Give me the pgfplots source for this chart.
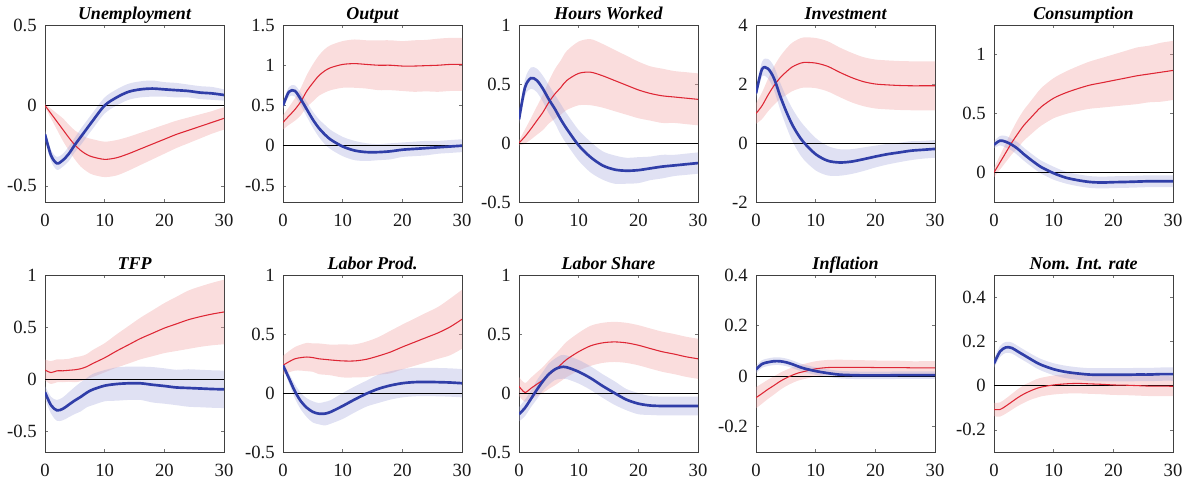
\documentclass[border=0pt]{standalone}
\usepackage{fontspec}
\setmainfont{Liberation Serif}
\usepackage{pgfplots}
\pgfplotsset{compat=1.18}
\usepackage{pgfplotstable}
\usepgfplotslibrary{fillbetween}

\definecolor{irfblue}{RGB}{48,62,168}
\definecolor{irfred}{RGB}{222,38,52}
\definecolor{bandblue}{RGB}{160,165,220}
\definecolor{bandred}{RGB}{240,160,160}

% columns: x, blue mean, blue half-width, red mean, red half-width
\pgfplotstableread{
x bm bw rm rw
0 -0.18 0.03 0.00 0.01
1 -0.31 0.035 -0.05 0.03
2 -0.36 0.04 -0.10 0.05
3 -0.34 0.04 -0.15 0.07
4 -0.30 0.045 -0.20 0.08
5 -0.245 0.045 -0.245 0.09
6 -0.195 0.05 -0.28 0.10
7 -0.145 0.05 -0.305 0.105
8 -0.095 0.05 -0.32 0.11
10 0.00 0.05 -0.335 0.11
12 0.05 0.05 -0.325 0.11
14 0.085 0.05 -0.30 0.105
16 0.10 0.05 -0.27 0.10
18 0.105 0.05 -0.24 0.095
20 0.10 0.045 -0.21 0.09
22 0.095 0.045 -0.18 0.085
24 0.09 0.04 -0.155 0.08
26 0.08 0.04 -0.13 0.075
28 0.075 0.04 -0.105 0.07
30 0.065 0.035 -0.08 0.07
}\tUnemp

\pgfplotstableread{
x bm bw rm rw
0 0.50 0.05 0.29 0.09
1 0.67 0.06 0.37 0.11
2 0.68 0.07 0.45 0.14
3 0.575 0.08 0.55 0.17
4 0.45 0.09 0.68 0.20
5 0.325 0.10 0.78 0.23
6 0.22 0.11 0.87 0.25
7 0.14 0.12 0.93 0.27
8 0.075 0.12 0.97 0.28
10 -0.01 0.12 1.01 0.29
12 -0.06 0.12 1.02 0.30
14 -0.08 0.11 1.01 0.30
16 -0.08 0.10 1.00 0.31
18 -0.07 0.10 1.00 0.31
20 -0.05 0.09 0.99 0.31
22 -0.04 0.09 0.99 0.32
24 -0.03 0.09 0.995 0.32
26 -0.02 0.08 1.00 0.33
28 -0.01 0.08 1.01 0.33
30 0.00 0.08 1.01 0.33
}\tOutput

\pgfplotstableread{
x bm bw rm rw
0 0.20 0.04 0.00 0.02
1 0.47 0.07 0.055 0.06
2 0.55 0.09 0.12 0.09
3 0.53 0.10 0.19 0.12
4 0.46 0.11 0.26 0.15
5 0.37 0.12 0.345 0.18
6 0.29 0.12 0.415 0.21
7 0.20 0.13 0.47 0.23
8 0.12 0.13 0.53 0.25
10 -0.02 0.13 0.59 0.27
12 -0.12 0.13 0.60 0.28
14 -0.19 0.12 0.57 0.27
16 -0.225 0.12 0.53 0.26
18 -0.235 0.11 0.49 0.25
20 -0.23 0.11 0.45 0.24
22 -0.215 0.10 0.42 0.23
24 -0.20 0.10 0.40 0.23
26 -0.19 0.09 0.39 0.22
28 -0.18 0.09 0.38 0.22
30 -0.17 0.09 0.37 0.22
}\tHours

\pgfplotstableread{
x bm bw rm rw
0 1.68 0.15 1.00 0.35
1 2.50 0.25 1.26 0.45
2 2.52 0.33 1.62 0.55
3 2.20 0.40 1.94 0.65
4 1.62 0.45 2.20 0.72
5 1.10 0.50 2.40 0.78
6 0.65 0.55 2.57 0.82
7 0.30 0.57 2.67 0.84
8 0.02 0.58 2.73 0.85
10 -0.38 0.55 2.71 0.85
12 -0.60 0.50 2.60 0.85
14 -0.66 0.45 2.40 0.84
16 -0.63 0.42 2.22 0.84
18 -0.55 0.40 2.08 0.83
20 -0.46 0.37 2.00 0.83
22 -0.38 0.35 1.97 0.83
24 -0.32 0.33 1.95 0.83
26 -0.26 0.32 1.94 0.83
28 -0.23 0.30 1.94 0.83
30 -0.20 0.30 1.94 0.83
}\tInvest

\pgfplotstableread{
x bm bw rm rw
0 0.235 0.03 0.00 0.04
1 0.27 0.04 0.085 0.06
2 0.26 0.05 0.17 0.08
3 0.235 0.05 0.255 0.10
4 0.20 0.055 0.33 0.12
5 0.155 0.055 0.40 0.13
6 0.115 0.055 0.455 0.14
7 0.077 0.055 0.51 0.15
8 0.043 0.055 0.56 0.16
10 -0.006 0.055 0.63 0.17
12 -0.043 0.05 0.675 0.18
14 -0.065 0.05 0.71 0.19
16 -0.08 0.05 0.74 0.20
18 -0.085 0.05 0.76 0.21
20 -0.082 0.05 0.78 0.22
22 -0.08 0.05 0.80 0.23
24 -0.077 0.05 0.82 0.24
26 -0.074 0.05 0.835 0.24
28 -0.074 0.05 0.85 0.25
30 -0.074 0.05 0.865 0.25
}\tCons

\pgfplotstableread{
x bm bw rm rw
0 -0.126 0.06 0.088 0.10
1 -0.25 0.08 0.063 0.11
2 -0.30 0.10 0.08 0.11
3 -0.285 0.11 0.08 0.11
4 -0.245 0.12 0.085 0.11
5 -0.205 0.13 0.09 0.12
6 -0.17 0.14 0.10 0.12
7 -0.13 0.14 0.12 0.12
8 -0.10 0.15 0.15 0.13
10 -0.063 0.15 0.205 0.14
12 -0.047 0.16 0.27 0.16
14 -0.04 0.16 0.33 0.18
16 -0.04 0.16 0.39 0.20
18 -0.054 0.17 0.44 0.22
20 -0.066 0.17 0.49 0.24
22 -0.08 0.17 0.53 0.26
24 -0.085 0.18 0.57 0.28
26 -0.09 0.18 0.60 0.29
28 -0.095 0.18 0.625 0.30
30 -0.098 0.18 0.645 0.31
}\tTFP

\pgfplotstableread{
x bm bw rm rw
0 0.235 0.02 0.235 0.08
1 0.125 0.04 0.265 0.09
2 0.014 0.06 0.29 0.10
3 -0.07 0.07 0.30 0.11
4 -0.125 0.08 0.305 0.12
5 -0.16 0.09 0.30 0.12
6 -0.175 0.09 0.29 0.13
7 -0.175 0.10 0.285 0.13
8 -0.16 0.10 0.28 0.13
10 -0.11 0.11 0.272 0.14
12 -0.055 0.11 0.272 0.14
14 -0.005 0.11 0.286 0.15
16 0.036 0.12 0.314 0.16
18 0.064 0.12 0.347 0.18
20 0.083 0.12 0.39 0.19
22 0.092 0.12 0.43 0.20
24 0.094 0.12 0.47 0.21
26 0.092 0.12 0.51 0.22
28 0.089 0.12 0.56 0.24
30 0.083 0.12 0.625 0.25
}\tLProd

\pgfplotstableread{
x bm bw rm rw
0 -0.18 0.06 0.056 0.08
1 -0.126 0.07 0.005 0.08
2 -0.05 0.07 0.04 0.09
3 0.028 0.08 0.075 0.10
4 0.10 0.08 0.11 0.11
5 0.16 0.09 0.155 0.12
6 0.20 0.09 0.195 0.13
7 0.22 0.10 0.24 0.14
8 0.218 0.10 0.285 0.15
10 0.18 0.10 0.35 0.16
12 0.126 0.10 0.40 0.17
14 0.06 0.10 0.425 0.17
16 0.00 0.10 0.433 0.17
18 -0.056 0.09 0.425 0.17
20 -0.09 0.09 0.405 0.17
22 -0.106 0.08 0.377 0.17
24 -0.11 0.08 0.35 0.17
26 -0.11 0.08 0.33 0.17
28 -0.11 0.08 0.307 0.17
30 -0.11 0.08 0.29 0.17
}\tLShare

\pgfplotstableread{
x bm bw rm rw
0 0.026 0.015 -0.085 0.042
1 0.048 0.015 -0.069 0.04
2 0.055 0.015 -0.052 0.038
3 0.059 0.015 -0.037 0.036
4 0.059 0.015 -0.021 0.034
5 0.055 0.015 -0.008 0.032
6 0.048 0.015 0.003 0.031
7 0.039 0.015 0.012 0.03
8 0.031 0.015 0.018 0.03
10 0.02 0.015 0.029 0.03
12 0.012 0.015 0.034 0.03
14 0.006 0.015 0.035 0.03
16 0.004 0.015 0.035 0.029
18 0.003 0.015 0.035 0.028
20 0.003 0.015 0.034 0.028
22 0.003 0.015 0.034 0.027
24 0.004 0.015 0.034 0.027
26 0.004 0.015 0.033 0.026
28 0.004 0.015 0.033 0.026
30 0.004 0.015 0.033 0.026
}\tInfl

\pgfplotstableread{
x bm bw rm rw
0 0.10 0.02 -0.108 0.03
1 0.154 0.025 -0.108 0.032
2 0.173 0.025 -0.092 0.034
3 0.17 0.025 -0.073 0.036
4 0.154 0.025 -0.054 0.038
5 0.138 0.025 -0.038 0.04
6 0.122 0.025 -0.025 0.04
7 0.106 0.026 -0.014 0.042
8 0.093 0.026 -0.006 0.042
10 0.074 0.027 0.003 0.043
12 0.062 0.028 0.008 0.044
14 0.055 0.028 0.01 0.045
16 0.05 0.029 0.008 0.045
18 0.049 0.03 0.006 0.045
20 0.049 0.03 0.003 0.045
22 0.049 0.03 0.002 0.045
24 0.05 0.03 0.0 0.045
26 0.05 0.03 -0.002 0.045
28 0.052 0.03 -0.002 0.045
30 0.052 0.03 -0.003 0.045
}\tRate

\pgfplotsset{irf/.style={
  scale only axis, width=134.25pt, height=132.75pt,
  xmin=0, xmax=30, xtick={0,10,20,30},
  axis line style={draw=black!75, line width=0.5pt},
  tick align=inside, major tick length=2.5pt,
  tick style={black!55, line width=0.4pt},
  /pgf/number format/assume math mode=true,
  xticklabel={\pgfmathprintnumber[assume math mode=true]{\tick}},
  yticklabel={\pgfmathprintnumber[assume math mode=true]{\tick}},
  ticklabel style={font=\rmfamily\fontsize{14}{16}\selectfont, inner sep=0pt, text=black!90},
  xticklabel style={anchor=north, yshift=-8.5pt},
  yticklabel style={anchor=east, xshift=-6pt},
  title style={font=\rmfamily\fontsize{13.5}{15}\selectfont\bfseries\itshape, anchor=base, yshift=-1.5pt, inner sep=0pt},
  anchor=north west,
}}

\begin{document}
\begin{tikzpicture}
\path (0,0) rectangle (896.25pt,-365.25pt);

\begin{axis}[irf, at={(33.75pt,-18.75pt)}, title={Unemployment}, ymin=-0.6, ymax=0.5, ytick={-0.5,0,0.5}]
\addplot[name path=bh, draw=none, smooth] table[x=x, y expr=\thisrow{bm}+\thisrow{bw}] {\tUnemp};
\addplot[name path=bl, draw=none, smooth] table[x=x, y expr=\thisrow{bm}-\thisrow{bw}] {\tUnemp};
\addplot[name path=rh, draw=none, smooth] table[x=x, y expr=\thisrow{rm}+\thisrow{rw}] {\tUnemp};
\addplot[name path=rl, draw=none, smooth] table[x=x, y expr=\thisrow{rm}-\thisrow{rw}] {\tUnemp};
\addplot[bandred, fill opacity=0.36, draw=none] fill between[of=rh and rl];
\addplot[bandblue, fill opacity=0.33, draw=none] fill between[of=bh and bl];
\addplot[black, line width=0.5pt] coordinates {(0,0) (30,0)};
\addplot[irfred, line width=0.8pt, smooth] table[x=x, y=rm] {\tUnemp};
\addplot[irfblue, line width=2pt, smooth] table[x=x, y=bm] {\tUnemp};
\end{axis}

\begin{axis}[irf, at={(212.25pt,-18.75pt)}, title={Output}, ymin=-0.7, ymax=1.5, ytick={-0.5,0,0.5,1,1.5}]
\addplot[name path=bh, draw=none, smooth] table[x=x, y expr=\thisrow{bm}+\thisrow{bw}] {\tOutput};
\addplot[name path=bl, draw=none, smooth] table[x=x, y expr=\thisrow{bm}-\thisrow{bw}] {\tOutput};
\addplot[name path=rh, draw=none, smooth] table[x=x, y expr=\thisrow{rm}+\thisrow{rw}] {\tOutput};
\addplot[name path=rl, draw=none, smooth] table[x=x, y expr=\thisrow{rm}-\thisrow{rw}] {\tOutput};
\addplot[bandred, fill opacity=0.36, draw=none] fill between[of=rh and rl];
\addplot[bandblue, fill opacity=0.33, draw=none] fill between[of=bh and bl];
\addplot[black, line width=0.5pt] coordinates {(0,0) (30,0)};
\addplot[irfred, line width=0.8pt, smooth] table[x=x, y=rm] {\tOutput};
\addplot[irfblue, line width=2pt, smooth] table[x=x, y=bm] {\tOutput};
\end{axis}

\begin{axis}[irf, at={(389.25pt,-18.75pt)}, title={Hours Worked}, ymin=-0.5, ymax=1, ytick={-0.5,0,0.5,1}]
\addplot[name path=bh, draw=none, smooth] table[x=x, y expr=\thisrow{bm}+\thisrow{bw}] {\tHours};
\addplot[name path=bl, draw=none, smooth] table[x=x, y expr=\thisrow{bm}-\thisrow{bw}] {\tHours};
\addplot[name path=rh, draw=none, smooth] table[x=x, y expr=\thisrow{rm}+\thisrow{rw}] {\tHours};
\addplot[name path=rl, draw=none, smooth] table[x=x, y expr=\thisrow{rm}-\thisrow{rw}] {\tHours};
\addplot[bandred, fill opacity=0.36, draw=none] fill between[of=rh and rl];
\addplot[bandblue, fill opacity=0.33, draw=none] fill between[of=bh and bl];
\addplot[black, line width=0.5pt] coordinates {(0,0) (30,0)};
\addplot[irfred, line width=0.8pt, smooth] table[x=x, y=rm] {\tHours};
\addplot[irfblue, line width=2pt, smooth] table[x=x, y=bm] {\tHours};
\end{axis}

\begin{axis}[irf, at={(567pt,-18.75pt)}, title={Investment}, ymin=-2, ymax=4, ytick={-2,0,2,4}]
\addplot[name path=bh, draw=none, smooth] table[x=x, y expr=\thisrow{bm}+\thisrow{bw}] {\tInvest};
\addplot[name path=bl, draw=none, smooth] table[x=x, y expr=\thisrow{bm}-\thisrow{bw}] {\tInvest};
\addplot[name path=rh, draw=none, smooth] table[x=x, y expr=\thisrow{rm}+\thisrow{rw}] {\tInvest};
\addplot[name path=rl, draw=none, smooth] table[x=x, y expr=\thisrow{rm}-\thisrow{rw}] {\tInvest};
\addplot[bandred, fill opacity=0.36, draw=none] fill between[of=rh and rl];
\addplot[bandblue, fill opacity=0.33, draw=none] fill between[of=bh and bl];
\addplot[black, line width=0.5pt] coordinates {(0,0) (30,0)};
\addplot[irfred, line width=0.8pt, smooth] table[x=x, y=rm] {\tInvest};
\addplot[irfblue, line width=2pt, smooth] table[x=x, y=bm] {\tInvest};
\end{axis}

\begin{axis}[irf, at={(745.5pt,-18.75pt)}, title={Consumption}, ymin=-0.25, ymax=1.25, ytick={0,0.5,1}]
\addplot[name path=bh, draw=none, smooth] table[x=x, y expr=\thisrow{bm}+\thisrow{bw}] {\tCons};
\addplot[name path=bl, draw=none, smooth] table[x=x, y expr=\thisrow{bm}-\thisrow{bw}] {\tCons};
\addplot[name path=rh, draw=none, smooth] table[x=x, y expr=\thisrow{rm}+\thisrow{rw}] {\tCons};
\addplot[name path=rl, draw=none, smooth] table[x=x, y expr=\thisrow{rm}-\thisrow{rw}] {\tCons};
\addplot[bandred, fill opacity=0.36, draw=none] fill between[of=rh and rl];
\addplot[bandblue, fill opacity=0.33, draw=none] fill between[of=bh and bl];
\addplot[black, line width=0.5pt] coordinates {(0,0) (30,0)};
\addplot[irfred, line width=0.8pt, smooth] table[x=x, y=rm] {\tCons};
\addplot[irfblue, line width=2pt, smooth] table[x=x, y=bm] {\tCons};
\end{axis}

\begin{axis}[irf, at={(33.75pt,-206.25pt)}, title={TFP}, ymin=-0.7, ymax=1, ytick={-0.5,0,0.5,1}]
\addplot[name path=bh, draw=none, smooth] table[x=x, y expr=\thisrow{bm}+\thisrow{bw}] {\tTFP};
\addplot[name path=bl, draw=none, smooth] table[x=x, y expr=\thisrow{bm}-\thisrow{bw}] {\tTFP};
\addplot[name path=rh, draw=none, smooth] table[x=x, y expr=\thisrow{rm}+\thisrow{rw}] {\tTFP};
\addplot[name path=rl, draw=none, smooth] table[x=x, y expr=\thisrow{rm}-\thisrow{rw}] {\tTFP};
\addplot[bandred, fill opacity=0.36, draw=none] fill between[of=rh and rl];
\addplot[bandblue, fill opacity=0.33, draw=none] fill between[of=bh and bl];
\addplot[black, line width=0.5pt] coordinates {(0,0) (30,0)};
\addplot[irfred, line width=0.8pt, smooth] table[x=x, y=rm] {\tTFP};
\addplot[irfblue, line width=2pt, smooth] table[x=x, y=bm] {\tTFP};
\end{axis}

\begin{axis}[irf, at={(212.25pt,-206.25pt)}, title={Labor Prod.}, ymin=-0.5, ymax=1, ytick={-0.5,0,0.5,1}]
\addplot[name path=bh, draw=none, smooth] table[x=x, y expr=\thisrow{bm}+\thisrow{bw}] {\tLProd};
\addplot[name path=bl, draw=none, smooth] table[x=x, y expr=\thisrow{bm}-\thisrow{bw}] {\tLProd};
\addplot[name path=rh, draw=none, smooth] table[x=x, y expr=\thisrow{rm}+\thisrow{rw}] {\tLProd};
\addplot[name path=rl, draw=none, smooth] table[x=x, y expr=\thisrow{rm}-\thisrow{rw}] {\tLProd};
\addplot[bandred, fill opacity=0.36, draw=none] fill between[of=rh and rl];
\addplot[bandblue, fill opacity=0.33, draw=none] fill between[of=bh and bl];
\addplot[black, line width=0.5pt] coordinates {(0,0) (30,0)};
\addplot[irfred, line width=0.8pt, smooth] table[x=x, y=rm] {\tLProd};
\addplot[irfblue, line width=2pt, smooth] table[x=x, y=bm] {\tLProd};
\end{axis}

\begin{axis}[irf, at={(389.25pt,-206.25pt)}, title={Labor Share}, ymin=-0.5, ymax=1, ytick={-0.5,0,0.5,1}]
\addplot[name path=bh, draw=none, smooth] table[x=x, y expr=\thisrow{bm}+\thisrow{bw}] {\tLShare};
\addplot[name path=bl, draw=none, smooth] table[x=x, y expr=\thisrow{bm}-\thisrow{bw}] {\tLShare};
\addplot[name path=rh, draw=none, smooth] table[x=x, y expr=\thisrow{rm}+\thisrow{rw}] {\tLShare};
\addplot[name path=rl, draw=none, smooth] table[x=x, y expr=\thisrow{rm}-\thisrow{rw}] {\tLShare};
\addplot[bandred, fill opacity=0.36, draw=none] fill between[of=rh and rl];
\addplot[bandblue, fill opacity=0.33, draw=none] fill between[of=bh and bl];
\addplot[black, line width=0.5pt] coordinates {(0,0) (30,0)};
\addplot[irfred, line width=0.8pt, smooth] table[x=x, y=rm] {\tLShare};
\addplot[irfblue, line width=2pt, smooth] table[x=x, y=bm] {\tLShare};
\end{axis}

\begin{axis}[irf, at={(567pt,-206.25pt)}, title={Inflation}, ymin=-0.3, ymax=0.4, ytick={-0.2,0,0.2,0.4}]
\addplot[name path=bh, draw=none, smooth] table[x=x, y expr=\thisrow{bm}+\thisrow{bw}] {\tInfl};
\addplot[name path=bl, draw=none, smooth] table[x=x, y expr=\thisrow{bm}-\thisrow{bw}] {\tInfl};
\addplot[name path=rh, draw=none, smooth] table[x=x, y expr=\thisrow{rm}+\thisrow{rw}] {\tInfl};
\addplot[name path=rl, draw=none, smooth] table[x=x, y expr=\thisrow{rm}-\thisrow{rw}] {\tInfl};
\addplot[bandred, fill opacity=0.36, draw=none] fill between[of=rh and rl];
\addplot[bandblue, fill opacity=0.33, draw=none] fill between[of=bh and bl];
\addplot[black, line width=0.5pt] coordinates {(0,0) (30,0)};
\addplot[irfred, line width=0.8pt, smooth] table[x=x, y=rm] {\tInfl};
\addplot[irfblue, line width=2pt, smooth] table[x=x, y=bm] {\tInfl};
\end{axis}

\begin{axis}[irf, at={(745.5pt,-206.25pt)}, title={Nom. Int. rate}, ymin=-0.3, ymax=0.5, ytick={-0.2,0,0.2,0.4}]
\addplot[name path=bh, draw=none, smooth] table[x=x, y expr=\thisrow{bm}+\thisrow{bw}] {\tRate};
\addplot[name path=bl, draw=none, smooth] table[x=x, y expr=\thisrow{bm}-\thisrow{bw}] {\tRate};
\addplot[name path=rh, draw=none, smooth] table[x=x, y expr=\thisrow{rm}+\thisrow{rw}] {\tRate};
\addplot[name path=rl, draw=none, smooth] table[x=x, y expr=\thisrow{rm}-\thisrow{rw}] {\tRate};
\addplot[bandred, fill opacity=0.36, draw=none] fill between[of=rh and rl];
\addplot[bandblue, fill opacity=0.33, draw=none] fill between[of=bh and bl];
\addplot[black, line width=0.5pt] coordinates {(0,0) (30,0)};
\addplot[irfred, line width=0.8pt, smooth] table[x=x, y=rm] {\tRate};
\addplot[irfblue, line width=2pt, smooth] table[x=x, y=bm] {\tRate};
\end{axis}
\end{tikzpicture}
\end{document}
